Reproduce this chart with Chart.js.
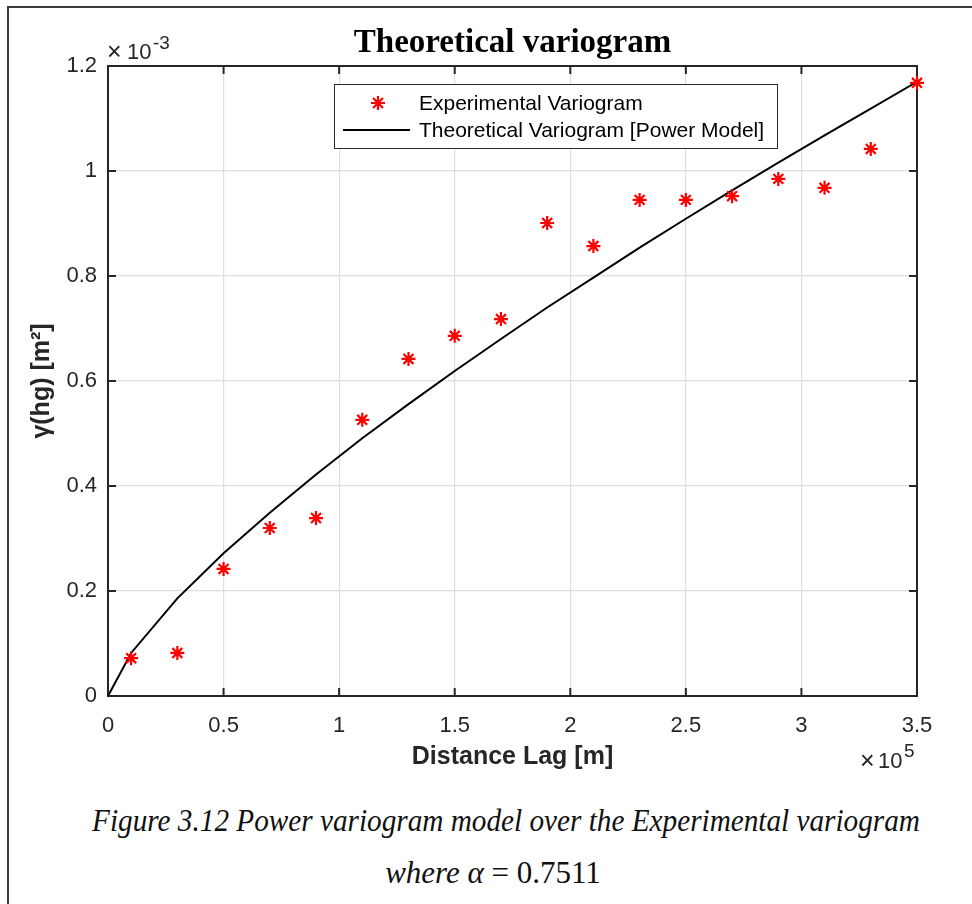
<!DOCTYPE html>
<html>
<head>
<meta charset="utf-8">
<script src="https://cdn.jsdelivr.net/npm/chart.js@4.4.0/dist/chart.umd.min.js"></script>
<style>
  body { margin: 0; background: #fff; }
  #wrap { position: relative; width: 972px; height: 904px; overflow: hidden; }
  #frame { position: absolute; left: 7px; top: 6px; width: 1000px; height: 1000px;
           border-left: 2px solid #3c3c3c; border-top: 2px solid #3c3c3c; }
  canvas { position: absolute; left: 0; top: 0; }
  .cap { position: absolute; font-family: "Liberation Serif", serif; font-size: 31px;
         line-height: 31px; white-space: nowrap; color: #111; }
  #cap1 { left: 506px; top: 805px; transform: translateX(-50%) scaleX(0.943); }
  #cap2 { left: 493px; top: 857px; transform: translateX(-50%); }
</style>
</head>
<body>
<div id="wrap">
  <div id="frame"></div>
  <canvas id="chart" width="972" height="780"></canvas>
  <div class="cap" id="cap1"><i>Figure 3.12 Power variogram model over the Experimental variogram</i></div>
  <div class="cap" id="cap2"><i>where α</i> = 0.7511</div>
</div>
<script>
// lag distances in m, semivariance in m^2
const lagDistances = [10000, 30000, 50000, 70000, 90000, 110000, 130000, 150000, 170000,
  190000, 210000, 230000, 250000, 270000, 290000, 310000, 330000, 350000];
const experimentalGamma = [0.000072, 0.000082, 0.000242, 0.000320, 0.000339, 0.000526,
  0.000642, 0.000686, 0.000718, 0.000901, 0.000857, 0.000945, 0.000945, 0.000952,
  0.000985, 0.000968, 0.001042, 0.001168];

const modelLags = [0, 10000, 30000, 50000, 70000, 90000, 110000, 130000, 150000, 170000,
  190000, 210000, 230000, 250000, 270000, 290000, 310000, 330000, 350000];
const modelGamma = [0, 0.000082, 0.000186, 0.000272, 0.000349, 0.000422, 0.000491,
  0.000556, 0.000619, 0.000680, 0.000740, 0.000797, 0.000854, 0.000909, 0.000963,
  0.001016, 0.001068, 0.001119, 0.001170];

const xTickValues = [0, 50000, 100000, 150000, 200000, 250000, 300000, 350000];
const xTickLabels = ['0', '0.5', '1', '1.5', '2', '2.5', '3', '3.5'];
const yTickValues = [0, 0.0002, 0.0004, 0.0006, 0.0008, 0.001, 0.0012];
const yTickLabels = ['0', '0.2', '0.4', '0.6', '0.8', '1', '1.2'];

const axisColor = '#262626';
Chart.defaults.font.family = 'Liberation Sans, Arial, sans-serif';
Chart.defaults.color = axisColor;

// matlab style box, inward ticks, exponent labels and legend
const matlabAxes = {
  id: 'matlabAxes',
  beforeDatasetsDraw(chart) {
    const { ctx, chartArea: a, scales: { x, y } } = chart;
    ctx.save();
    ctx.strokeStyle = axisColor;
    ctx.lineWidth = 2;
    ctx.strokeRect(a.left, a.top, a.right - a.left, a.bottom - a.top);
    ctx.beginPath();
    x.ticks.forEach(t => {
      const px = x.getPixelForValue(t.value);
      ctx.moveTo(px, a.bottom); ctx.lineTo(px, a.bottom - 8);
      ctx.moveTo(px, a.top); ctx.lineTo(px, a.top + 8);
    });
    y.ticks.forEach(t => {
      const py = y.getPixelForValue(t.value);
      ctx.moveTo(a.left, py); ctx.lineTo(a.left + 8, py);
      ctx.moveTo(a.right, py); ctx.lineTo(a.right - 8, py);
    });
    ctx.stroke();
    ctx.restore();
  },
  afterDraw(chart) {
    const { ctx, chartArea: a } = chart;
    ctx.save();
    ctx.fillStyle = axisColor;
    ctx.textBaseline = 'alphabetic';
    ctx.textAlign = 'left';
    // x 10^-3 above the y axis
    ctx.font = '25px Liberation Sans';
    ctx.fillText('\u00d7', a.left - 1, a.top - 6);
    ctx.font = '22px Liberation Sans';
    ctx.fillText('10', a.left + 19, a.top - 7);
    ctx.font = '19px Liberation Sans';
    ctx.fillText('-3', a.left + 45, a.top - 17);
    // x 10^5 under the x axis
    ctx.font = '25px Liberation Sans';
    ctx.fillText('\u00d7', a.right - 57, a.bottom + 73);
    ctx.font = '22px Liberation Sans';
    ctx.fillText('10', a.right - 39, a.bottom + 72);
    ctx.font = '19px Liberation Sans';
    ctx.fillText('5', a.right - 13, a.bottom + 61);

    // legend
    const lx = a.left + 226, ly = a.top + 18, lw = 443, lh = 64;
    ctx.fillStyle = '#fff';
    ctx.fillRect(lx, ly, lw, lh);
    ctx.strokeStyle = axisColor;
    ctx.lineWidth = 1;
    ctx.strokeRect(lx + 0.5, ly + 0.5, lw, lh);
    const ds = chart.data.datasets;
    const rows = [ly + 19, ly + 46];
    ctx.font = '21px Liberation Sans';
    ctx.textBaseline = 'middle';
    ds.forEach((d, i) => {
      const ry = rows[i];
      if (d.showLine) {
        ctx.strokeStyle = d.borderColor;
        ctx.lineWidth = d.borderWidth;
        ctx.beginPath();
        ctx.moveTo(lx + 9, ry); ctx.lineTo(lx + 76, ry);
        ctx.stroke();
      } else {
        ctx.strokeStyle = d.borderColor;
        ctx.lineWidth = d.pointBorderWidth;
        Chart.helpers.drawPoint(ctx, { pointStyle: d.pointStyle, radius: d.pointRadius, borderWidth: d.pointBorderWidth, rotation: 0 }, lx + 44, ry);
      }
      ctx.fillStyle = '#000';
      ctx.fillText(d.label, lx + 85, ry + 1);
    });
    ctx.restore();
  }
};

new Chart(document.getElementById('chart'), {
  type: 'scatter',
  data: {
    datasets: [
      {
        label: 'Experimental Variogram',
        data: lagDistances.map((v, i) => ({ x: v, y: experimentalGamma[i] })),
        showLine: false,
        pointStyle: 'star',
        pointRadius: 7,
        pointBorderWidth: 2.2,
        borderColor: '#ff0000',
        backgroundColor: '#ff0000',
        clip: false,
        order: 0
      },
      {
        label: 'Theoretical Variogram [Power Model]',
        data: modelLags.map((v, i) => ({ x: v, y: modelGamma[i] })),
        showLine: true,
        borderColor: '#000000',
        borderWidth: 2,
        pointRadius: 0,
        tension: 0,
        fill: false,
        clip: false,
        order: 1
      }
    ]
  },
  options: {
    responsive: false,
    animation: false,
    devicePixelRatio: 1,
    layout: { padding: { left: 0, right: 55, top: 0, bottom: 0 } },
    plugins: {
      legend: { display: false },
      tooltip: { enabled: false },
      title: {
        display: true,
        text: 'Theoretical variogram',
        fullSize: false,
        color: '#000',
        font: { family: 'Liberation Serif', size: 33, weight: 'bold' },
        padding: { top: 24, bottom: 2.4 }
      }
    },
    scales: {
      x: {
        type: 'linear',
        min: 0,
        max: 350000,
        afterFit: s => { s.height = 84; },
        afterBuildTicks: s => { s.ticks = xTickValues.map(v => ({ value: v })); },
        ticks: { callback: (v, i) => xTickLabels[i], padding: 17, font: { size: 22 }, maxRotation: 0, autoSkip: false },
        grid: { color: '#dedede', lineWidth: 1.2, drawTicks: false },
        border: { display: false },
        title: { display: true, text: 'Distance Lag [m]', font: { size: 25, weight: 'bold' }, padding: { top: 0, bottom: 8 } }
      },
      y: {
        type: 'linear',
        min: 0,
        max: 0.0012,
        afterFit: s => { s.width = 108; },
        afterBuildTicks: s => { s.ticks = yTickValues.map(v => ({ value: v })); },
        ticks: { callback: (v, i) => yTickLabels[i], padding: 11, font: { size: 22 }, autoSkip: false },
        grid: { color: '#dedede', lineWidth: 1.2, drawTicks: false },
        border: { display: false },
        title: { display: true, text: 'γ(hg) [m²]', font: { size: 25, weight: 'bold' }, padding: { top: 27, bottom: 0 } }
      }
    }
  },
  plugins: [matlabAxes]
});
</script>
</body>
</html>
